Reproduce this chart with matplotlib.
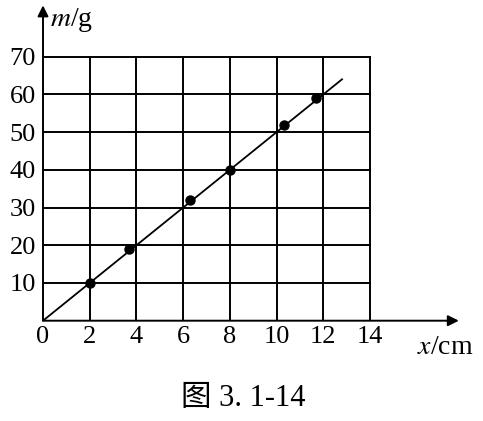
import matplotlib

matplotlib.use("Agg")
import matplotlib.pyplot as plt
import numpy as np

# 数据：读图得到的测量点与拟合直线
x_pts = [2.0, 3.7, 6.3, 8.0, 10.3, 11.7]
m_pts = [10.0, 19.0, 32.0, 40.0, 52.0, 59.0]
line_x = [0.0, 12.8]
line_m = [0.0, 64.0]
x_ticks = [0, 2, 4, 6, 8, 10, 12, 14]
y_ticks = [10, 20, 30, 40, 50, 60, 70]

plt.rcParams["font.family"] = ["Liberation Serif", "Noto Sans CJK SC"]
plt.rcParams["mathtext.fontset"] = "stix"

fig = plt.figure(figsize=(4.83, 4.21), dpi=100)
ax = fig.add_axes([43 / 483, 100.3 / 421, 417 / 483, 315.7 / 421])
ax.set_xlim(0, 17.85)
ax.set_ylim(0, 83.7)
for s in ax.spines.values():
    s.set_visible(False)

lw = 1.4
# 网格
for xv in x_ticks[1:]:
    ax.plot([xv, xv], [0, 70], color="black", lw=lw, solid_capstyle="projecting")
for yv in y_ticks:
    ax.plot([0, 14], [yv, yv], color="black", lw=lw, solid_capstyle="projecting")

# 坐标轴箭头
arrow = dict(arrowstyle="-|>", lw=lw, color="black", mutation_scale=16, shrinkA=0, shrinkB=0)
ax.annotate("", xy=(17.8, 0), xytext=(0, 0), arrowprops=arrow, annotation_clip=False)
ax.annotate("", xy=(0, 83.6), xytext=(0, 0), arrowprops=arrow, annotation_clip=False)

ax.plot(line_x, line_m, color="black", lw=1.3)
ax.plot(x_pts, m_pts, "o", color="black", ms=6.5)

ax.set_xticks(x_ticks)
ax.set_xticklabels([str(v) for v in x_ticks])
ax.set_yticks(y_ticks)
ax.set_yticklabels([str(v) for v in y_ticks])
ax.tick_params(axis="both", length=0, labelsize=19)
ax.tick_params(axis="x", pad=4)
ax.tick_params(axis="y", pad=5)

ax.text(0.3, 79.7, r"$m$/g", fontsize=20, ha="left", va="center")
ax.text(16.0, -7.0, r"$x$/cm", fontsize=20, ha="left", va="center")

fig.text(243 / 483, 1 - 398 / 421, "图 3. 1-14", fontsize=22, ha="center", va="center")

fig.savefig("out.png", dpi=100)
